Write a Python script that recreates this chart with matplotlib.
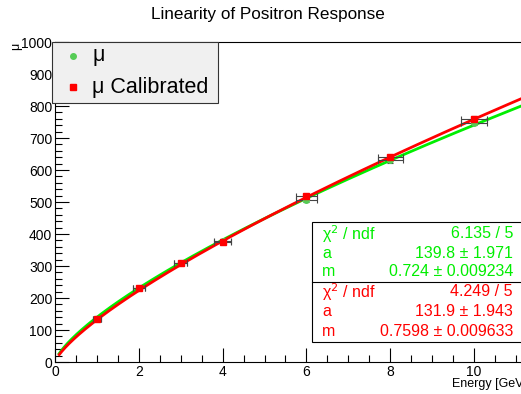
import numpy as np
import matplotlib
matplotlib.use("Agg")
import matplotlib.pyplot as plt
from matplotlib.ticker import MultipleLocator
from matplotlib.patches import Rectangle

plt.rcParams['font.family'] = ['Liberation Sans', 'DejaVu Sans']

energy = [1, 2, 3, 4, 6, 8, 10]
mu = [135, 232, 310, 378, 505, 630, 748]
mu_cal = [135, 232, 310, 375, 518, 640, 760]
energy_err = [0.1, 0.15, 0.15, 0.2, 0.25, 0.3, 0.3]
mu_err = [4, 5, 5, 5, 6, 7, 8]
fit_green = (139.8, 0.724)
fit_red = (131.9, 0.7598)
stats_green = [("\u03c7$^2$ / ndf", "6.135 / 5"), ("a", "139.8 \u00b1 1.971"), ("m", "0.724 \u00b1 0.009234")]
stats_red = [("\u03c7$^2$ / ndf", "4.249 / 5"), ("a", "131.9 \u00b1 1.943"), ("m", "0.7598 \u00b1 0.009633")]

W, H = 521, 394
fig = plt.figure(figsize=(W / 100, H / 100), dpi=100)
xmax = 11.5
px_per_unit = 41.9
ax = fig.add_axes([55 / W, 32 / H, xmax * px_per_unit / W, 320 / H])
ax.set_xlim(0, xmax)
ax.set_ylim(0, 1000)

GREEN = '#00ee00'
RED = '#ff0000'

xs = np.linspace(0.1, 12, 400)
ax.plot(xs, fit_green[0] * xs ** fit_green[1], color=GREEN, lw=2, zorder=3)
ax.plot(xs, fit_red[0] * xs ** fit_red[1], color=RED, lw=2, zorder=3)

ax.errorbar(energy, mu, xerr=energy_err, yerr=mu_err, fmt='o', color='#55cc55', ms=4,
            ecolor='#444444', elinewidth=0.8, capsize=2.5, capthick=0.8, zorder=4)
ax.errorbar(energy, mu_cal, xerr=energy_err, yerr=mu_err, fmt='s', color=RED, ms=4,
            ecolor='#444444', elinewidth=0.8, capsize=2.5, capthick=0.8, zorder=5)

ax.xaxis.set_major_locator(MultipleLocator(2))
ax.xaxis.set_minor_locator(MultipleLocator(0.5))
ax.yaxis.set_major_locator(MultipleLocator(100))
ax.yaxis.set_minor_locator(MultipleLocator(20))
ax.tick_params(which='both', direction='in', top=False, right=False, labelsize=10, pad=2)
ax.tick_params(which='major', length=10, width=0.8)
ax.tick_params(which='minor', length=5, width=0.8)
for s in ax.spines.values():
    s.set_linewidth(0.8)

fig.text(268 / W, 1 - 15 / H, "Linearity of Positron Response", ha='center', va='center', fontsize=12.3)
fig.text(16 / W, 1 - 46 / H, "\u03bc", rotation=90, ha='center', va='center', fontsize=9)
fig.text(521 / W + 0.012, 1 - 384 / H, "Energy [GeV]", ha='right', va='center', fontsize=9)

# legend box
leg = Rectangle((52 / W, 1 - 103 / H), (218 - 52) / W, (103 - 42) / H, transform=fig.transFigure,
                facecolor='#f0f0f0', edgecolor='#333333', lw=0.8, zorder=10)
fig.add_artist(leg)
fig.lines.append(plt.Line2D([73 / W], [1 - 56 / H], marker='o', color='#55cc55', ms=4, ls='none',
                            transform=fig.transFigure, zorder=11))
fig.lines.append(plt.Line2D([73 / W], [1 - 87 / H], marker='s', color=RED, ms=4, ls='none',
                            transform=fig.transFigure, zorder=11))
fig.text(92 / W, 1 - 56 / H, "\u03bc", fontsize=15.5, va='center', zorder=12)
fig.text(92 / W, 1 - 87 / H, "\u03bc Calibrated", fontsize=15.5, va='center', zorder=12)

# stats box
bx0, bx1 = 312, 530
by0, bym, by1 = 222, 282, 342
box = Rectangle((bx0 / W, 1 - by1 / H), (bx1 - bx0) / W, (by1 - by0) / H, transform=fig.transFigure,
                facecolor='white', edgecolor='black', lw=0.8, zorder=10)
fig.add_artist(box)
fig.lines.append(plt.Line2D([bx0 / W, bx1 / W], [1 - bym / H, 1 - bym / H], color='black', lw=0.8,
                            transform=fig.transFigure, zorder=11))
rows_y = [234, 253, 272, 292, 312, 332]
for i, (k, v) in enumerate(stats_green + stats_red):
    c = GREEN if i < 3 else RED
    y = 1 - rows_y[i] / H
    fig.text(322 / W, y, k, color=c, fontsize=11.5, va='center', zorder=12)
    fig.text(513 / W, y, v, color=c, fontsize=11.5, va='center', ha='right', zorder=12)

fig.savefig("out.png", dpi=100)
